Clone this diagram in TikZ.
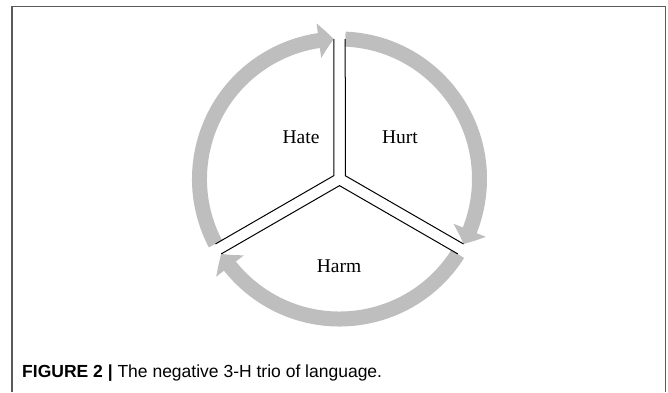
\documentclass[tikz,border=0pt]{standalone}
\usepackage{fontspec}
\setmainfont{Liberation Serif}
\setsansfont{Liberation Sans}
\usetikzlibrary{arrows.meta,bending}
\definecolor{ringgray}{RGB}{190,190,190}
\definecolor{framegray}{RGB}{90,90,90}

\begin{document}
\begin{tikzpicture}[
        x=1pt, y=1pt,
        ring/.style={
            draw=ringgray,
            line width=15pt,
            -{Triangle[bend,length=15pt,width=34pt]}
        },
        divider/.style={
            draw=black,
            line width=1pt
        },
        sectortext/.style={
            font=\fontsize{19.5}{22}\selectfont
        }
    ]
        \useasboundingbox (0,0) rectangle (668,392);

        % Frame
        \draw[framegray, line width=1.5pt] (12,0) -- (12,385.5) -- (665.5,385.5) -- (665.5,0);

        \coordinate (c) at (339.5,213);

        \begin{scope}[shift={(c)}]
            % Arrows
            \draw[ring] (207.65:140) arc[start angle=207.65, end angle=92.35, radius=140];
            \draw[ring] (87.65:140) arc[start angle=87.65, end angle=-27.65, radius=140];
            \draw[ring] (327.65:140) arc[start angle=327.65, end angle=212.35, radius=140];

            % Dividers
            \foreach \r in {0,-120,-240} {
                \draw[divider, rotate=\r] (92.35:140) -- (150:6.64) -- (207.65:140);
            }
        \end{scope}

        % Sectors
        \node[sectortext] (hate) at (301,255) {Hate};
        \node[sectortext] (hurt) at (400,255) {Hurt};
        \node[sectortext] (harm) at (339,126) {Harm};

        % Caption
        \node[anchor=base west, inner sep=0pt, font=\sffamily\fontsize{17.5}{20}\selectfont] (caption) at (22,15)
            {\textbf{FIGURE 2 |} The negative 3-H trio of language.};
    \end{tikzpicture}
\end{document}
